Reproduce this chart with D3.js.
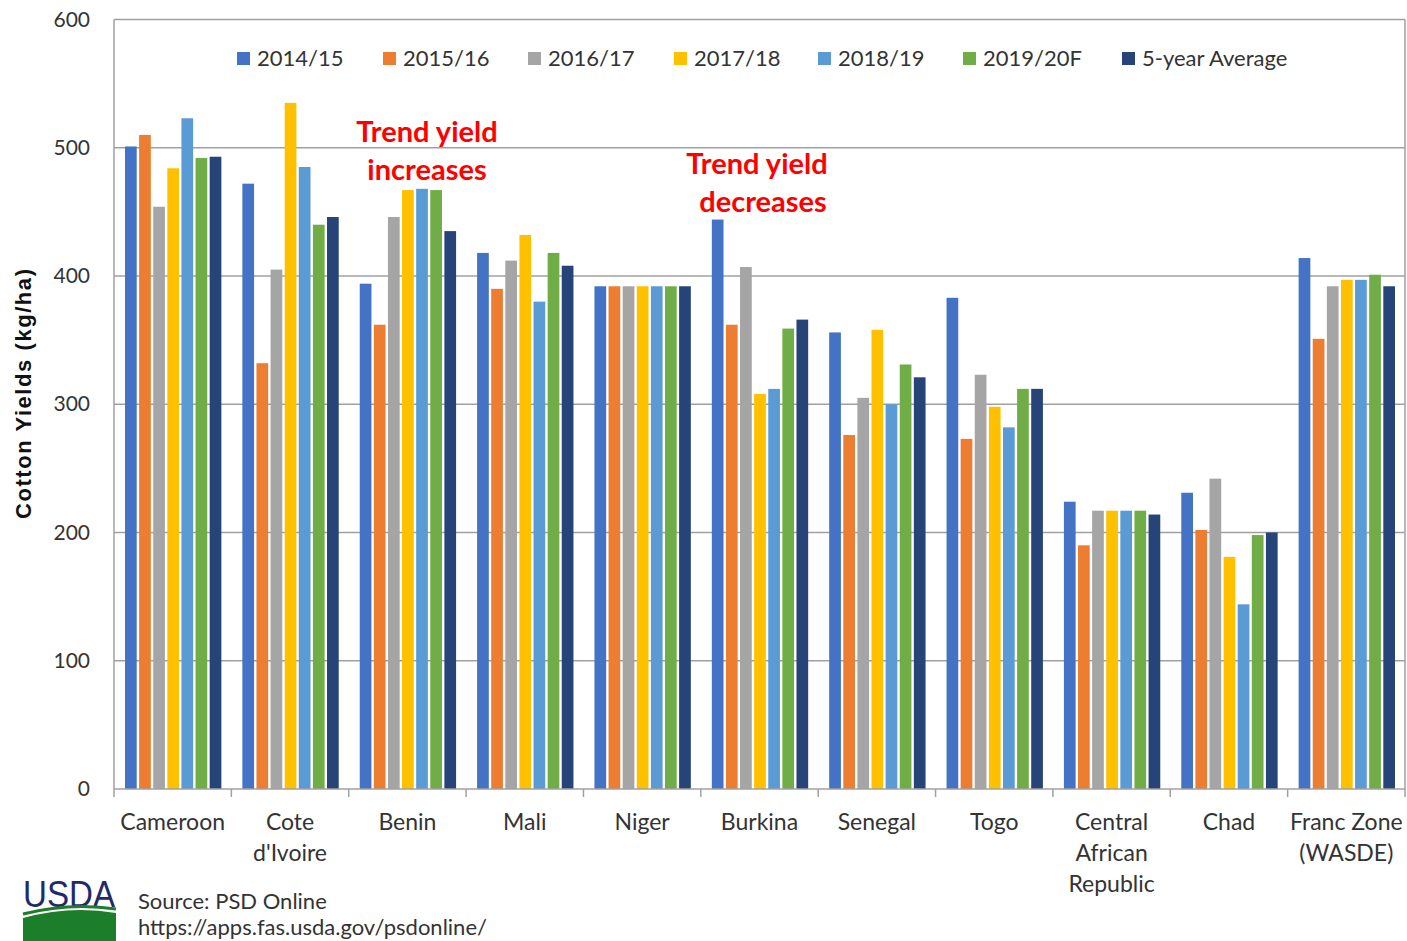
<!DOCTYPE html>
<html>
<head>
<meta charset="utf-8">
<script src="https://cdn.jsdelivr.net/npm/d3@7"></script>
<style>
  body { margin: 0; background: #fff; }
</style>
</head>
<body>
<svg id="chart" width="1407" height="941" font-family="Lato, 'Open Sans', sans-serif"></svg>
<script>
// categories and series (kg/ha)
const countries = ["Cameroon", "Cote\nd'Ivoire", "Benin", "Mali", "Niger", "Burkina", "Senegal", "Togo",
                   "Central\nAfrican\nRepublic", "Chad", "Franc Zone\n(WASDE)"];
const series = ["2014/15", "2015/16", "2016/17", "2017/18", "2018/19", "2019/20F", "5-year Average"];
const colors = ["#4472C4", "#ED7D31", "#A5A5A5", "#FFC000", "#5B9BD5", "#70AD47", "#264478"];
const y2014 = [501, 472, 394, 418, 392, 444, 356, 383, 224, 231, 414];
const y2015 = [510, 332, 362, 390, 392, 362, 276, 273, 190, 202, 351];
const y2016 = [454, 405, 446, 412, 392, 407, 305, 323, 217, 242, 392];
const y2017 = [484, 535, 467, 432, 392, 308, 358, 298, 217, 181, 397];
const y2018 = [523, 485, 468, 380, 392, 312, 300, 282, 217, 144, 397];
const y2019 = [492, 440, 467, 418, 392, 359, 331, 312, 217, 198, 401];
const yAvg  = [493, 446, 435, 408, 392, 366, 321, 312, 214, 200, 392];
const yTicks = [0, 100, 200, 300, 400, 500, 600];

const values = [y2014, y2015, y2016, y2017, y2018, y2019, yAvg];
const rows = countries.map((c, i) => ({ c: c, v: values.map(s => s[i]) }));

const svg = d3.select("#chart");
const L = 114, R = 1405, T = 19.5, B = 789;

const x0 = d3.scaleBand().domain(countries).range([L, R]);
const x1 = d3.scaleBand().domain(series).range([11, x0.bandwidth() - 10]).paddingInner(0.17);
const y = d3.scaleLinear().domain([0, 600]).range([B, T]);

// gridlines
svg.append("g").selectAll("line").data(yTicks.slice(1)).join("line")
    .attr("x1", L).attr("x2", R).attr("y1", d => y(d)).attr("y2", d => y(d))
    .attr("stroke", "#a0a0a0").attr("stroke-width", 1.5);
// frame
svg.append("line").attr("x1", L).attr("x2", L).attr("y1", T).attr("y2", B)
    .attr("stroke", "#a0a0a0").attr("stroke-width", 1.5);
svg.append("line").attr("x1", R).attr("x2", R).attr("y1", T).attr("y2", B)
    .attr("stroke", "#a0a0a0").attr("stroke-width", 1.5);

// y tick labels
svg.append("g").selectAll("text").data(yTicks).join("text")
    .attr("x", 90).attr("y", d => y(d) + 7).attr("text-anchor", "end")
    .attr("font-size", 21).attr("fill", "#333").text(d => d);

// bars
const grp = svg.append("g").selectAll("g").data(rows).join("g")
    .attr("transform", d => "translate(" + x0(d.c) + ",0)");
grp.selectAll("rect").data(d => d.v.map((v, k) => ({ s: series[k], v: v, k: k }))).join("rect")
    .attr("x", d => x1(d.s)).attr("width", x1.bandwidth())
    .attr("y", d => y(d.v)).attr("height", d => B - y(d.v))
    .attr("fill", d => colors[d.k]);

// x axis line and ticks
svg.append("line").attr("x1", L).attr("x2", R).attr("y1", B).attr("y2", B)
    .attr("stroke", "#a0a0a0").attr("stroke-width", 1.5);
svg.append("g").selectAll("line").data(countries.concat(["end"])).join("line")
    .attr("x1", (d, i) => L + i * x0.step()).attr("x2", (d, i) => L + i * x0.step())
    .attr("y1", B).attr("y2", B + 8).attr("stroke", "#a0a0a0").attr("stroke-width", 1.5);

// category labels
const cl = svg.append("g").selectAll("text").data(countries).join("text")
    .attr("x", d => x0(d) + x0.bandwidth() / 2).attr("y", 830)
    .attr("text-anchor", "middle").attr("font-size", 23).attr("fill", "#333");
cl.selectAll("tspan").data(d => d.split("\n")).join("tspan")
    .attr("x", function () { return d3.select(this.parentNode).attr("x"); })
    .attr("dy", (d, i) => i ? 31 : 0).text(d => d);

// y axis title
svg.append("text").attr("transform", "translate(31,394) rotate(-90)")
    .attr("text-anchor", "middle").attr("font-size", 22).attr("font-weight", "bold")
    .attr("font-family", "'Liberation Sans', Arial, sans-serif").attr("fill", "#111")
    .attr("textLength", 250).text("Cotton Yields (kg/ha)");

// legend
const legX = [237, 383, 528, 674, 818, 963, 1122];
const lg = svg.append("g").selectAll("g").data(series).join("g")
    .attr("transform", (d, i) => "translate(" + legX[i] + ",58)");
lg.append("rect").attr("x", 0).attr("y", -6).attr("width", 13).attr("height", 13)
    .attr("fill", (d, i) => colors[i]);
lg.append("text").attr("x", 20).attr("y", 8).attr("font-size", 22).attr("fill", "#333").text(d => d);

// annotations
const notes = [["Trend yield", 427, 142], ["increases", 427, 180], ["Trend yield", 757, 174], ["decreases", 763, 212]];
svg.append("g").selectAll("text").data(notes).join("text")
    .attr("x", d => d[1]).attr("y", d => d[2]).attr("text-anchor", "middle")
    .attr("font-size", 29).attr("font-weight", "bold").attr("fill", "#ff0000").text(d => d[0]);

// USDA logo + source
svg.append("text").attr("x", 69).attr("y", 907).attr("text-anchor", "middle")
    .attr("font-family", "'Liberation Sans', Arial, sans-serif").attr("font-size", 36)
    .attr("fill", "#1f2a6b").attr("textLength", 92).attr("lengthAdjust", "spacingAndGlyphs").text("USDA");
svg.append("path").attr("d", "M23,941 L23,918 Q70,905 116,913 L116,941 Z").attr("fill", "#1c7d2a");
svg.append("path").attr("d", "M23,914 Q70,902 116,909").attr("stroke", "#1c7d2a").attr("stroke-width", 3).attr("fill", "none");
svg.append("text").attr("x", 138).attr("y", 909).attr("font-size", 22).attr("fill", "#333").text("Source: PSD Online");
svg.append("text").attr("x", 138).attr("y", 935).attr("font-size", 22).attr("fill", "#333").text("https://apps.fas.usda.gov/psdonline/");
</script>
</body>
</html>
